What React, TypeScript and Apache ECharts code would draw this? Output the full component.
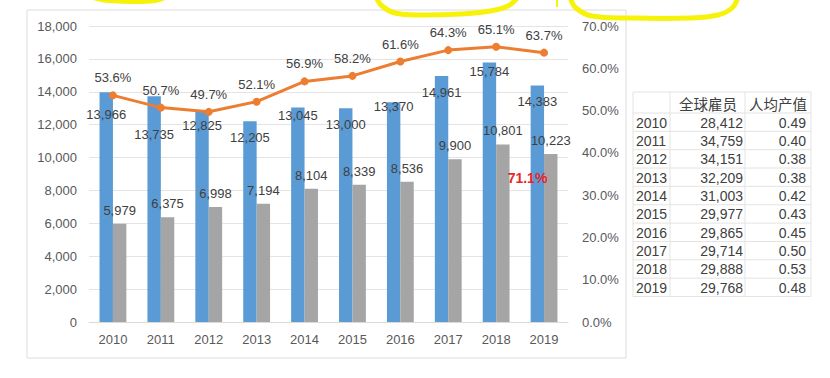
import React, { useEffect, useRef } from "react";
import * as echarts from "echarts";

const categories = ["2010", "2011", "2012", "2013", "2014", "2015", "2016", "2017", "2018", "2019"];
const blueValues = [13966, 13735, 12825, 12205, 13045, 13000, 13370, 14961, 15784, 14383];
const grayValues = [5979, 6375, 6998, 7194, 8104, 8339, 8536, 9900, 10801, 10223];
const ratioValues = [0.536, 0.507, 0.497, 0.521, 0.569, 0.582, 0.616, 0.643, 0.651, 0.637];
const leftTicks = { min: 0, max: 18000, interval: 2000 };
const rightTicks = { min: 0, max: 0.7, interval: 0.1 };
const annotationText = "71.1%";

const tableHeader = ["", "全球雇员", "人均产值"];
const tableYears = ["2010", "2011", "2012", "2013", "2014", "2015", "2016", "2017", "2018", "2019"];
const tableEmployees = [28412, 34759, 34151, 32209, 31003, 29977, 29865, 29714, 29888, 29768];
const tablePerCapita = [0.49, 0.4, 0.38, 0.38, 0.42, 0.43, 0.45, 0.5, 0.53, 0.48];

// label vertical offsets for blue bar labels (style only)
const blueLabelShift = [11, 27, 3, 5, -3.5, 5, -7, 5, -2, 4.5];

const fmt = (v: number) => v.toLocaleString("en-US");

export default function App() {
  const ref = useRef<HTMLDivElement>(null);
  useEffect(() => {
    if (!ref.current) return;
    const chart = echarts.init(ref.current, null, { renderer: "svg" });
    const labelFont = "Liberation Sans";
    const txtColor = "#404040";

    // table graphic
    const tLeft = 633, tRight = 811, c1 = 670, c2 = 745;
    const tTop = 92, headH = 21, rowH = 18.35;
    const tableEls: any[] = [];
    const nRows = tableYears.length;
    const bottom = tTop + headH + rowH * nRows;
    const lineStyle = { stroke: "#e3e3e3", lineWidth: 1 };
    // horizontal lines
    tableEls.push({ type: "line", shape: { x1: tLeft, y1: tTop, x2: tRight, y2: tTop }, style: lineStyle });
    for (let i = 0; i <= nRows; i++) {
      const y = tTop + headH + rowH * i;
      tableEls.push({ type: "line", shape: { x1: tLeft, y1: y, x2: tRight, y2: y }, style: lineStyle });
    }
    [tLeft, c1, c2, tRight].forEach((x) => {
      tableEls.push({ type: "line", shape: { x1: x, y1: tTop, x2: x, y2: bottom }, style: lineStyle });
    });
    // header
    tableEls.push({
      type: "text", x: 737, y: tTop + headH / 2 + 1,
      style: { text: tableHeader[1], fill: txtColor, font: "14.5px 'Noto Sans CJK SC'", align: "right", textAlign: "right", verticalAlign: "middle" },
    });
    tableEls.push({
      type: "text", x: 807, y: tTop + headH / 2 + 1,
      style: { text: tableHeader[2], fill: txtColor, font: "14.5px 'Noto Sans CJK SC'", align: "right", textAlign: "right", verticalAlign: "middle" },
    });
    for (let i = 0; i < nRows; i++) {
      const y = tTop + headH + rowH * i + rowH / 2 + 0.5;
      tableEls.push({
        type: "text", x: 636, y,
        style: { text: tableYears[i], fill: txtColor, font: "14px 'Liberation Sans'", textAlign: "left", verticalAlign: "middle" },
      });
      tableEls.push({
        type: "text", x: 743, y,
        style: { text: fmt(tableEmployees[i]), fill: txtColor, font: "14px 'Liberation Sans'", textAlign: "right", verticalAlign: "middle" },
      });
      tableEls.push({
        type: "text", x: 806, y,
        style: { text: tablePerCapita[i].toFixed(2), fill: txtColor, font: "14px 'Liberation Sans'", textAlign: "right", verticalAlign: "middle" },
      });
    }

    const yellow = { stroke: "#f7f20a", lineWidth: 5, lineCap: "round", lineJoin: "round", fill: "none" };

    chart.setOption({
      animation: false,
      backgroundColor: "#ffffff",
      textStyle: { fontFamily: labelFont },
      grid: { left: 89, right: 262, top: 26, bottom: 56 },
      xAxis: {
        type: "category",
        data: categories,
        axisLine: { lineStyle: { color: "#d9d9d9" } },
        axisTick: { show: false },
        axisLabel: { color: "#595959", fontSize: 13, margin: 11, fontFamily: labelFont },
      },
      yAxis: [
        {
          type: "value",
          min: leftTicks.min,
          max: leftTicks.max,
          interval: leftTicks.interval,
          axisLine: { show: false },
          axisTick: { show: false },
          splitLine: { lineStyle: { color: "#e4e4e4" } },
          axisLabel: { color: "#595959", fontSize: 13, margin: 12, fontFamily: labelFont, formatter: (v: number) => fmt(v) },
        },
        {
          type: "value",
          min: rightTicks.min,
          max: rightTicks.max,
          interval: rightTicks.interval,
          axisLine: { show: false },
          axisTick: { show: false },
          splitLine: { show: false },
          axisLabel: { color: "#595959", fontSize: 13, margin: 14, fontFamily: labelFont, formatter: (v: number) => (v * 100).toFixed(1) + "%" },
        },
      ],
      series: [
        {
          type: "bar",
          yAxisIndex: 0,
          barWidth: "28%",
          barGap: "0%",
          itemStyle: { color: "#5b9bd5" },
          data: blueValues.map((v, i) => ({
            value: v,
            label: { offset: [0, blueLabelShift[i]] },
          })),
          label: {
            show: true,
            position: "insideTop",
            distance: 5,
            color: txtColor,
            fontSize: 13,
            fontFamily: labelFont,
            formatter: (p: any) => fmt(p.value),
          },
          z: 2,
        },
        {
          type: "bar",
          yAxisIndex: 0,
          barWidth: "28%",
          barGap: "0%",
          itemStyle: { color: "#a5a5a5" },
          data: grayValues,
          label: {
            show: true,
            position: "top",
            distance: 7,
            color: txtColor,
            fontSize: 13,
            fontFamily: labelFont,
            formatter: (p: any) => fmt(p.value),
          },
          z: 2,
        },
        {
          type: "line",
          yAxisIndex: 1,
          data: ratioValues,
          symbol: "circle",
          symbolSize: 8,
          lineStyle: { color: "#ed7d31", width: 3 },
          itemStyle: { color: "#ed7d31" },
          label: {
            show: true,
            position: "top",
            distance: 7,
            color: txtColor,
            fontSize: 13,
            fontFamily: labelFont,
            formatter: (p: any) => (p.value * 100).toFixed(1) + "%",
          },
          z: 5,
        },
      ],
      graphic: [
        {
          type: "rect",
          shape: { x: 27, y: 10, width: 599, height: 348 },
          style: { fill: "none", stroke: "#dcdcdc", lineWidth: 1 },
          z: -1,
          silent: true,
        },
        {
          type: "text",
          x: 527.5,
          y: 178,
          style: { text: annotationText, fill: "#e8262a", font: "bold 14px 'Liberation Sans'", textAlign: "center", verticalAlign: "middle" },
          z: 10,
        },
        ...tableEls,
        {
          type: "polyline",
          shape: { points: [[92, -3], [104, 0], [130, 1.5], [155, 0.5], [166, -3]], smooth: 0.4 },
          style: yellow,
          z: 20,
        },
        {
          type: "polyline",
          shape: { points: [[376, -3], [382, 6], [395, 13], [420, 15], [460, 14], [490, 11], [508, 6], [518, -3]], smooth: 0.4 },
          style: yellow,
          z: 20,
        },
        {
          type: "line",
          shape: { x1: 557, y1: 0, x2: 557, y2: 7 },
          style: { stroke: "#f7f20a", lineWidth: 2 },
          z: 20,
        },
        {
          type: "polyline",
          shape: { points: [[570, -3], [576, 8], [592, 16], [630, 18], [690, 18], [718, 15], [732, 8], [738, -3]], smooth: 0.4 },
          style: yellow,
          z: 20,
        },
      ],
    });
    return () => chart.dispose();
  }, []);
  return (
    <div
      ref={ref}
      style={{ position: "absolute", left: 0, top: 0, width: 830, height: 378, background: "#fff" }}
    />
  );
}
